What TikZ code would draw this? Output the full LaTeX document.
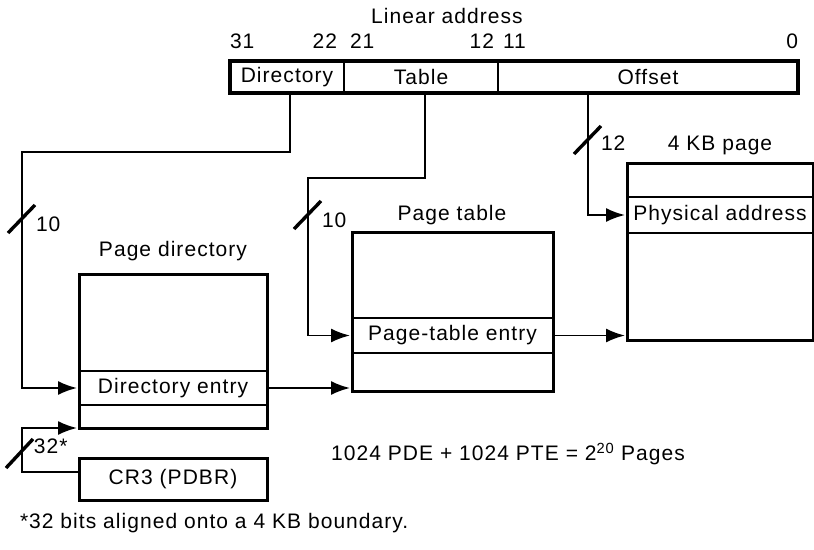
\documentclass[tikz,border=0pt]{standalone}
\usepackage{fontspec}
\setmainfont{Liberation Sans}[LetterSpace=5]
\usetikzlibrary{arrows.meta,calc}
\begin{document}
\begin{tikzpicture}[x=1pt,y=-1pt,
  every node/.style={font=\fontsize{21}{24}\selectfont, inner sep=0pt, outer sep=0pt},
  field/.style={draw, line width=1.8pt, minimum height=32pt},
  outerbox/.style={line width=3.4pt},
  tbl/.style={draw, line width=3pt, anchor=north west},
  rowbox/.style={draw, line width=1.9pt},
  conn/.style={line width=1.9pt},
  arr/.style={conn, -{Latex[length=19pt,width=14pt]}, shorten >=2pt},
  slash/.style={line width=3.4pt},
]
\useasboundingbox (0,0) rectangle (814,549);

% linear address
\node (la) at (447,16) {Linear address};
\node[field, minimum width=114pt] (dirf) at (287,77) {Directory};
\node[field, minimum width=154pt] (tabf) at (421,77) {Table};
\node[field, minimum width=300pt] (offf) at (648,77) {Offset};
\draw[outerbox] (dirf.north west) rectangle (offf.south east);
\node[anchor=west] (b31) at (230,41) {31};
\node[anchor=east] (b22) at (337,41) {22};
\node[anchor=west] (b21) at (350,41) {21};
\node[anchor=east] (b12) at (494,41) {12};
\node[anchor=west] (b11) at (503,41) {11};
\node[anchor=east] (b0) at (798,41) {0};

% page directory
\node (pdt) at (173,251) {Page directory};
\node[tbl, minimum width=188pt, minimum height=154pt] (pd) at (79,274) {};
\node[rowbox, minimum width=188pt, minimum height=34pt] (pdentry) at (173,388) {Directory entry};

% page table
\node (ptt) at (452,215) {Page table};
\node[tbl, minimum width=201pt, minimum height=159pt] (pt) at (352,232) {};
\node[rowbox, minimum width=201pt, minimum height=35pt] (ptentry) at (452.5,335.5) {Page-table entry};

% 4 KB page
\node (pgt) at (720,145) {4 KB page};
\node[tbl, minimum width=186pt, minimum height=177pt] (pg) at (627,163) {};
\node[rowbox, minimum width=186pt, minimum height=36pt] (pgentry) at (720,215) {Physical address};

% CR3
\node[draw, line width=3pt, minimum width=188pt, minimum height=42pt] (cr3) at (173,479) {CR3 (PDBR)};

% connectors
\coordinate (d2) at (22,152);
\draw[arr] ($(dirf.south)+(3,0)$) |- (d2) |- (pdentry.west);
\coordinate (t2) at (308,178);
\draw[arr] ($(tabf.south)+(4,0)$) |- (t2) |- (ptentry.west);
\draw[arr] ($(offf.south west)+(90,0)$) |- (pgentry.west);
\draw[arr] (pdentry.east) -- (pdentry.east -| pt.west);
\draw[arr] (ptentry.east) -- (ptentry.east -| pg.west);
\coordinate (c2) at (22,472);
\draw[arr] ($(cr3.west)+(0,-7)$) -- (c2) |- (pd.south west);

% slashes and widths
\draw[slash] (8,233) -- (35,205);
\node[anchor=west] (w1) at (36,224) {10};
\draw[slash] (294,229) -- (321,201);
\node[anchor=west] (w2) at (322,220) {10};
\draw[slash] (574,154) -- (601,126);
\node[anchor=west] (w3) at (601,143) {12};
\draw[slash] (6,468) -- (33,439);
\node[anchor=west] (w4) at (34,446) {32*};

% notes
\node (formula) at (508,454) {1024 PDE + 1024 PTE = 2\textsuperscript{20} Pages};
\node[anchor=west] (foot) at (20,523) {*32 bits aligned onto a 4 KB boundary.};
\end{tikzpicture}
\end{document}
